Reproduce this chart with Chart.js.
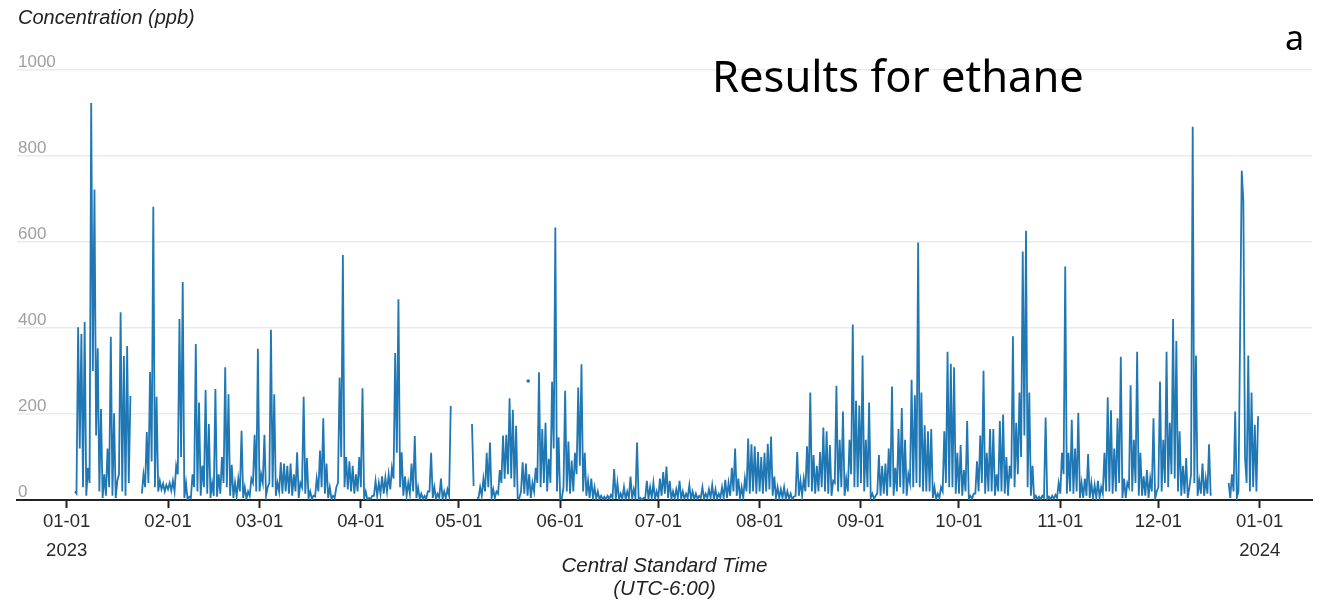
<!DOCTYPE html>
<html>
<head>
<meta charset="utf-8">
<script src="https://cdn.jsdelivr.net/npm/chart.js@4.4.1/dist/chart.umd.min.js"></script>
<style>
  body { margin: 0; background: #fff; }
  #wrap { position: relative; width: 1320px; height: 602px; }
</style>
</head>
<body>
<div id="wrap"><canvas id="myChart"></canvas></div>
<script>
// Dias desde el 01-01-2023 donde empieza cada mes (y el 01-01-2024)
const monthStarts = [0, 31, 59, 90, 120, 151, 181, 212, 243, 273, 304, 334, 365];
const tickLabels = ["01-01","02-01","03-01","04-01","05-01","06-01","07-01","08-01","09-01","10-01","11-01","12-01","01-01"];
const yearLabels = ["2023","","","","","","","","","","","","2024"];
const yTicks = [0, 200, 400, 600, 800, 1000];

// Concentracion (ppb), dos lecturas por dia: 00:00 y 12:00. null = sin datos
const jan = [null,null, null,null, null,20, 15,402, 120,386, 30,414, 10,75, 40,923, 300,722, 150,353,
             20,212, 5,60, 10,120, 30,380, 10,202, 5,45, 60,437, 20,335, 10,358, 40,242,
             null,null, null,null, null,null, 15,60, 30,158, 40,298, 90,682, 30,240, 20,45, 25,38,
             20,35];
const feb = [25,40, 22,45, 20,80, 60,421, 100,507, 5,40, 0,8, 5,60, 30,363, 20,227,
             10,80, 30,256, 15,177, 5,40, 10,258, 8,60, 15,100, 40,309, 30,246, 10,82,
             5,40, 8,50, 20,161, 5,30, 3,20, 10,50, 40,152, 20,352];
const mar = [20,60, 40,152, 10,30, 40,396, 30,246, 10,40, 20,88, 15,85, 20,80, 15,85,
             10,60, 20,111, 5,40, 30,240, 15,98, 5,20, 3,10, 8,50, 20,115, 30,190,
             15,85, 5,30, 3,10, 5,30, 40,285, 100,570, 30,100, 25,90, 20,80, 15,60,
             20,100];
const apr = [30,260, 5,20, 0,5, 3,10, 10,45, 10,40, 15,55, 15,52, 20,60, 25,75,
             50,342, 110,467, 30,111, 10,55, 10,40, 15,85, 20,149, 5,30, 3,15, 2,10,
             3,20, 20,110, 5,30, 3,15, 5,50, 3,20, 5,25, 10,219, null,null, null,null];
const may = [null,null, null,null, null,null, null,null, 177,33, null,5, 5,30, 10,50, 20,110, 30,134,
             5,25, 5,20, 15,70, 40,150, 50,152, 60,237, 50,210, 30,173, 0,5, 20,88,
             15,85, 10,60, 5,40, 20,75, 40,297, 30,165, 40,180, 20,96, 40,275, 120,634,
             20,146];
const jun = [0,5, 30,254, 20,136, 15,92, 20,110, 60,262, 80,316, 20,110, 10,45, 5,50,
             5,30, 3,20, 2,10, 2,8, 2,10, 3,12, 5,72, 3,40, 2,15, 3,30,
             2,20, 5,55, 3,25, 5,134, 0,5, 0,5, 5,45, 3,30, 5,40, 3,20];
const jul = [5,50, 10,65, 15,78, 5,45, 3,20, 3,25, 5,45, 3,20, 3,15, 5,35,
             3,20, 2,15, 3,10, 5,30, 3,15, 5,25, 5,35, 3,25, 3,15, 5,30,
             5,47, 5,40, 10,75, 20,120, 10,50, 5,30, 5,50, 20,143, 15,130, 20,125,
             15,112];
const aug = [20,100, 15,110, 20,131, 25,148, 10,55, 5,30, 5,25, 5,30, 3,20, 3,15,
             2,8, 10,112, 10,45, 10,50, 20,125, 30,250, 20,105, 15,80, 20,112, 30,169,
             20,160, 15,128, 10,45, 40,266, 20,140, 30,206, 10,50, 20,140, 60,408, 30,231,
             30,220];
const sep = [40,336, 20,140, 30,227, 5,15, 3,10, 15,105, 10,80, 15,85, 10,120, 30,264,
             10,75, 20,165, 30,214, 15,140, 10,60, 40,280, 30,244, 40,599, 30,250, 20,174,
             20,160, 20,165, 5,30, 3,15, 5,30, 20,160, 40,345, 30,317, 30,309, 15,110];
const oct = [15,128, 10,70, 20,184, 3,10, 3,15, 15,90, 20,150, 40,301, 15,110, 20,165,
             20,165, 10,60, 20,184, 20,199, 15,100, 10,80, 50,381, 30,180, 60,250, 100,578,
             150,626, 30,250, 10,80, 2,10, 2,8, 2,10, 5,192, 2,8, 2,10, 3,12,
             5,40];
const nov = [15,110, 60,543, 15,110, 20,187, 15,120, 20,203, 5,40, 5,50, 10,107, 5,40,
             5,35, 5,45, 5,30, 15,110, 20,239, 20,209, 15,120, 20,190, 40,333, 5,50,
             5,40, 30,267, 20,140, 40,345, 10,110, 10,55, 10,70, 5,50, 20,190, 3,20];
const dec = [30,276, 20,140, 40,345, 30,180, 60,421, 50,370, 20,160, 10,80, 15,98, 5,30,
             60,868, 40,336, 10,45, 15,85, 10,50, 15,130, 10,null, null,null, null,null, null,null,
             null,null, null,40, 5,60, 20,206, 5,20, 384,766, 695,100, 40,336, 20,250, 30,175,
             20,195];

// Lectura aislada (sin vecinos), dia y valor
const isolatedDay = [141.2];
const isolatedVal = [277];

const months = [jan, feb, mar, apr, may, jun, jul, aug, sep, oct, nov, dec];
const puntos = [];
months.forEach((vals, m) => {
    vals.forEach((v, i) => puntos.push({ x: monthStarts[m] + i / 2, y: v }));
});
const aislados = isolatedDay.map((d, i) => ({ x: d, y: isolatedVal[i] }));

const azul = "#1f77b4";

// Textos que no son de los ejes: etiquetas del eje y, titulo y letra del panel
const textos = {
    id: "textos",
    afterDraw(chart) {
        const ctx = chart.ctx;
        const y = chart.scales.y;
        ctx.save();
        ctx.textAlign = "left";
        ctx.textBaseline = "alphabetic";
        ctx.fillStyle = "#a0a0a0";
        ctx.font = '17px "Liberation Sans", Arial, sans-serif';
        yTicks.forEach(v => ctx.fillText(String(v), 18, y.getPixelForValue(v) - 3));

        ctx.fillStyle = "#222";
        ctx.font = 'italic 20px "Liberation Sans", Arial, sans-serif';
        ctx.fillText("Concentration (ppb)", 18, 24);

        ctx.fillStyle = "#000";
        ctx.font = '43.5px "Noto Sans", sans-serif';
        ctx.fillText("Results for ethane", 712, 92);

        ctx.font = '34px "Noto Sans", sans-serif';
        ctx.fillText("a", 1285, 50);
        ctx.restore();
    }
};

new Chart(document.getElementById("myChart"), {
    type: "line",
    data: {
        datasets: [{
            label: "Ethane",
            data: puntos,
            borderColor: azul,
            borderWidth: 1.8,
            pointRadius: 0,
            spanGaps: false,
            tension: 0
        }, {
            label: "Isolated",
            data: aislados,
            showLine: false,
            pointRadius: 1.8,
            pointBorderWidth: 0,
            backgroundColor: azul
        }]
    },
    options: {
        responsive: true,
        maintainAspectRatio: false,
        animation: false,
        events: [],
        layout: { padding: { left: 17, right: 8, top: 70, bottom: 1 } },
        plugins: { legend: { display: false }, tooltip: { enabled: false } },
        scales: {
            x: {
                type: "linear",
                min: -15.2,
                max: 381,
                afterBuildTicks: scale => { scale.ticks = monthStarts.map(v => ({ value: v })); },
                ticks: {
                    autoSkip: false,
                    maxRotation: 0,
                    padding: 0,
                    color: "#2a2a2a",
                    font: { family: '"Liberation Sans", Arial, sans-serif', size: 18.5, lineHeight: 1.54 },
                    callback: (v, i) => yearLabels[i] ? [tickLabels[i], yearLabels[i]] : tickLabels[i]
                },
                grid: { drawOnChartArea: false, drawTicks: true, tickLength: 8, tickColor: "#222", tickWidth: 2 },
                border: { color: "#222", width: 2 },
                title: {
                    display: true,
                    text: ["Central Standard Time", "(UTC-6:00)"],
                    color: "#222",
                    font: { family: '"Liberation Sans", Arial, sans-serif', size: 20.5, style: "italic", lineHeight: 1.12 },
                    padding: { top: -10, bottom: 0 }
                }
            },
            y: {
                min: 0,
                max: 1000,
                afterBuildTicks: scale => { scale.ticks = yTicks.map(v => ({ value: v })); },
                ticks: { display: false },
                grid: {
                    drawTicks: false,
                    lineWidth: 1.5,
                    color: c => c.tick && c.tick.value === 0 ? "rgba(0,0,0,0)" : "#ebebeb"
                },
                border: { display: false }
            }
        }
    },
    plugins: [textos]
});
</script>
</body>
</html>
